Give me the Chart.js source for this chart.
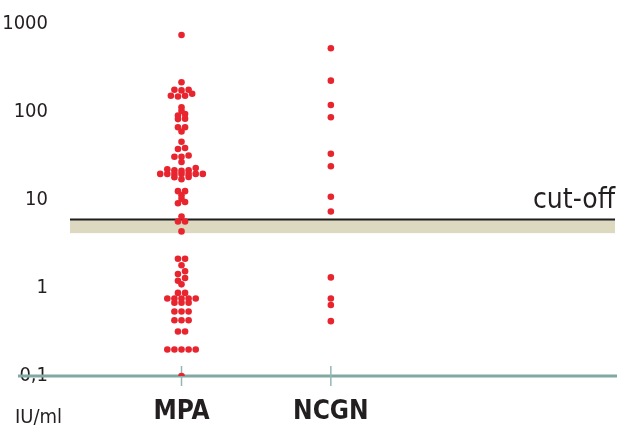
<!DOCTYPE html>
<html>
<head>
<meta charset="utf-8">
<script src="https://cdn.jsdelivr.net/npm/chart.js@4.4.1/dist/chart.umd.min.js"></script>
<style>
  html, body { margin: 0; padding: 0; background: #ffffff; }
  #wrap { width: 617px; height: 428px; position: relative; }
</style>
</head>
<body>
<div id="wrap"><canvas id="c" width="617" height="428"></canvas></div>
<script>
// ---- data ----
const categories = ['MPA', 'NCGN'];
const mpaValues = [
  750, 218, 179, 179, 176, 161, 153, 153, 150, 113, 103, 95, 91, 84, 83,
  67, 67, 60, 46, 39, 38, 32, 31, 31, 27, 23.1, 22.3, 21.8, 21.8, 21.4,
  19.8, 19.8, 19.8, 19.8, 19.8, 19.8, 19.8, 18.3, 18.1, 17.2,
  12.6, 12.6, 11.3, 10.3, 9.5, 9.2, 6.5, 5.7, 5.7, 4.4,
  2.15, 2.15, 1.81, 1.55, 1.44, 1.30, 1.21, 1.10, 0.88, 0.88,
  0.76, 0.76, 0.76, 0.76, 0.76, 0.68, 0.68, 0.68, 0.54, 0.54, 0.54,
  0.43, 0.43, 0.43, 0.32, 0.32, 0.20, 0.20, 0.20, 0.20, 0.20, 0.10
];
const ncgnValues = [530, 227, 120, 87, 33.6, 24.2, 10.9, 7.4, 1.32, 0.76, 0.64, 0.42];
const yTickValues = [0.1, 1, 10, 100, 1000];
const yTickLabels = ['0,1', '1', '10', '100', '1000'];
const cutOffValue = 6;
const greyZoneLow = 4.2;
const cutOffLabel = 'cut-off';
const unitLabel = 'IU/ml';

// ---- styling ----
const FONT = "'Liberation Sans Narrow', 'DejaVu Sans Condensed', 'Liberation Sans', Arial, sans-serif";
const DOT = '#e8252f';
const TEAL = '#80a9a3';
const BAND = '#dcd9c0';
const TEXT = '#231f20';

const seriesValues = [mpaValues, ncgnValues];

const decorPlugin = {
  id: 'decor',
  beforeDatasetsDraw(chart) {
    const ctx = chart.ctx;
    const ys = chart.scales.y, xs = chart.scales.x, a = chart.chartArea;
    const yCut = ys.getPixelForValue(cutOffValue);
    const yLow = ys.getPixelForValue(greyZoneLow);
    const x0 = a.left + 9, x1 = chart.width - 2;
    ctx.save();
    // grey zone band
    ctx.fillStyle = BAND;
    ctx.fillRect(x0, yCut, x1 - x0, yLow - yCut);
    // cut-off line
    ctx.strokeStyle = '#1e1e1e';
    ctx.lineWidth = 2;
    ctx.beginPath(); ctx.moveTo(x0, yCut); ctx.lineTo(x1, yCut); ctx.stroke();
    // baseline
    const yb = ys.getPixelForValue(yTickValues[0]);
    ctx.strokeStyle = TEAL;
    ctx.lineWidth = 3;
    ctx.beginPath(); ctx.moveTo(18, yb); ctx.lineTo(chart.width, yb); ctx.stroke();
    // category tick marks
    ctx.lineWidth = 1.5;
    ctx.strokeStyle = '#94b7b2';
    categories.forEach((c, i) => {
      const px = xs.getPixelForValue(i + 1);
      ctx.beginPath(); ctx.moveTo(px, yb - 10); ctx.lineTo(px, yb + 10); ctx.stroke();
    });
    // texts
    ctx.fillStyle = TEXT;
    ctx.font = '28px ' + FONT;
    ctx.textAlign = 'right';
    ctx.textBaseline = 'alphabetic';
    ctx.fillText(cutOffLabel, 615, yCut - 12);
    ctx.font = '20px ' + FONT;
    ctx.textAlign = 'left';
    ctx.fillText(unitLabel, 15, 423);
    ctx.restore();
  }
};

const chart = new Chart(document.getElementById('c'), {
  type: 'scatter',
  data: {
    datasets: seriesValues.map((vals, ci) => ({
      label: categories[ci],
      data: vals.map(v => ({ x: ci + 1, y: v })),
      backgroundColor: DOT,
      borderWidth: 0,
      pointRadius: 3.3,
      pointHoverRadius: 3.3
    }))
  },
  plugins: [decorPlugin],
  options: {
    responsive: false,
    animation: false,
    events: [],
    layout: { padding: { top: 24, right: 0, left: 0, bottom: 0 } },
    plugins: { legend: { display: false }, tooltip: { enabled: false } },
    scales: {
      x: {
        type: 'linear',
        min: 0.193,
        max: 3.894,
        grid: { display: false },
        border: { display: false },
        afterFit(s) { s.height = 52; },
        afterBuildTicks(s) { s.ticks = categories.map((c, i) => ({ value: i + 1 })); },
        ticks: {
          autoSkip: false,
          maxRotation: 0,
          padding: 13,
          color: TEXT,
          font: { family: FONT, size: 26, weight: 'bold' },
          callback: (v) => categories[Math.round(v) - 1]
        }
      },
      y: {
        type: 'logarithmic',
        min: 0.1,
        max: 1000,
        grid: { display: false },
        border: { display: false },
        afterFit(s) { s.width = 61; },
        afterBuildTicks(s) { s.ticks = yTickValues.map(v => ({ value: v })); },
        ticks: {
          padding: 5,
          color: TEXT,
          font: { family: FONT, size: 20 },
          callback: (v) => {
            const i = yTickValues.findIndex(t => Math.abs(t - v) < 1e-9);
            return i >= 0 ? yTickLabels[i] : '';
          }
        }
      }
    }
  }
});

// ---- dot-plot layout: rows of dots centred on the category ----
(function swarm() {
  const ys = chart.scales.y, xs = chart.scales.x;
  const unit = xs.getPixelForValue(2) - xs.getPixelForValue(1);
  const S = 7.1, DMIN = 1.5, ROW = 3.0;
  chart.data.datasets.forEach((ds, ci) => {
    const pts = ds.data.map((d, i) => ({ i, py: ys.getPixelForValue(d.y) }))
      .sort((a, b) => a.py - b.py);
    const rows = [];
    pts.forEach(p => {
      const r = rows[rows.length - 1];
      if (r && p.py - r[0].py <= ROW) r.push(p); else rows.push([p]);
    });
    const placed = [];
    rows.forEach(row => {
      const n = row.length;
      // lowest dots nearest to the centre, then alternating outwards
      const ord = row.slice().sort((a, b) => b.py - a.py);
      const slots = [];
      for (let k = 0; k < n; k++) slots.push((k - (n - 1) / 2) * S);
      slots.sort((a, b) => Math.abs(a) - Math.abs(b) || a - b);
      const shifts = [0, S / 2, -S / 2];
      let chosen = 0;
      for (const sh of shifts) {
        const ok = ord.every((p, k) => placed.every(q =>
          Math.hypot(slots[k] + sh - q.x, p.py - q.y) >= DMIN));
        if (ok) { chosen = sh; break; }
      }
      ord.forEach((p, k) => {
        const dx = slots[k] + chosen;
        placed.push({ x: dx, y: p.py });
        ds.data[p.i].x = ci + 1 + dx / unit;
      });
    });
  });
  chart.update('none');
})();
</script>
</body>
</html>
